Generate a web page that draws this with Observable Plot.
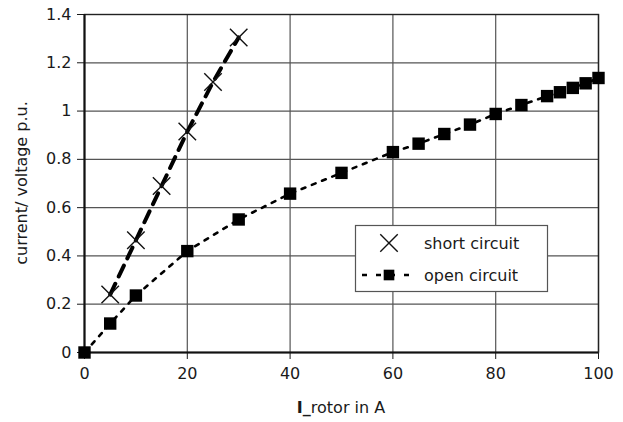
<!DOCTYPE html>
<html>
<head>
<meta charset="utf-8">
<script src="https://cdn.jsdelivr.net/npm/d3@7"></script>
<script src="https://cdn.jsdelivr.net/npm/@observablehq/plot@0.6"></script>
<style>
  html, body { margin: 0; padding: 0; background: white; }
  svg { display: block; }
</style>
</head>
<body>
<div id="chart"></div>
<script>
// Data
const shortX = [5, 10, 15, 20, 25, 30];
const shortY = [0.24, 0.465, 0.69, 0.915, 1.12, 1.305];
const openX = [0, 5, 10, 20, 30, 40, 50, 60, 65, 70, 75, 80, 85, 90, 92.5, 95, 97.5, 100];
const openY = [0, 0.12, 0.236, 0.42, 0.551, 0.658, 0.744, 0.83, 0.865, 0.905, 0.944, 0.988, 1.025, 1.062, 1.078, 1.096, 1.115, 1.137];
const xTicks = [0, 20, 40, 60, 80, 100];
const xTickLabels = ["0", "20", "40", "60", "80", "100"];
const yTicks = [0, 0.2, 0.4, 0.6, 0.8, 1, 1.2, 1.4];
const yTickLabels = ["0", "0.2", "0.4", "0.6", "0.8", "1", "1.2", "1.4"];
const seriesNames = ["short circuit", "open circuit"];
const xTitleBold = "I_";
const xTitleRest = "rotor in A";
const yTitle = "current/ voltage p.u.";

const shortData = shortX.map((x, i) => ({x, y: shortY[i]}));
const openData = openX.map((x, i) => ({x, y: openY[i]}));

const FONT = "DejaVu Sans";
const FS = "16px";
const chart = Plot.plot({
  width: 623,
  height: 422,
  marginLeft: 84,
  marginRight: 25,
  marginTop: 14,
  marginBottom: 70,
  style: {fontFamily: FONT, fontSize: FS, color: "#1a1a1a", background: "white", overflow: "visible"},
  x: {domain: [0, 100], ticks: xTicks, tickSize: 7, tickPadding: 8, label: null,
      tickFormat: (d) => xTickLabels[xTicks.indexOf(d)]},
  y: {domain: [0, 1.4], ticks: yTicks, tickSize: 7, tickPadding: 6, label: null,
      tickFormat: (d) => yTickLabels[yTicks.indexOf(d)]},
  marks: [
    Plot.gridX(xTicks, {stroke: "#555", strokeOpacity: 1, strokeWidth: 1.2}),
    Plot.gridY(yTicks, {stroke: "#555", strokeOpacity: 1, strokeWidth: 1.2}),
    Plot.frame({stroke: "#222", strokeWidth: 1.4}),
    Plot.ruleX([0], {stroke: "#111", strokeWidth: 2}),
    Plot.ruleY([0], {stroke: "#111", strokeWidth: 2}),
    Plot.line(openData, {x: "x", y: "y", stroke: "black", strokeWidth: 2.6, strokeDasharray: "4,7"}),
    Plot.line(shortData, {x: "x", y: "y", stroke: "black", strokeWidth: 4, strokeDasharray: "12,8"}),
    Plot.dot(openData, {x: "x", y: "y", symbol: "square", r: 7, fill: "black", stroke: "none"}),
    Plot.dot(shortData, {x: "x", y: "y", symbol: "times", r: 8, stroke: "#111", strokeWidth: 1.4})
  ]
});
document.getElementById("chart").appendChild(chart);

const svg = d3.select(chart);

// Axis titles
const xt = svg.append("text")
  .attr("x", 341).attr("y", 413)
  .attr("text-anchor", "middle")
  .attr("font-family", FONT).attr("font-size", FS).attr("fill", "#1a1a1a");
xt.append("tspan").attr("font-weight", "bold").text(xTitleBold);
xt.append("tspan").text(xTitleRest);

svg.append("text")
  .attr("transform", "translate(21,183) rotate(-90)")
  .attr("text-anchor", "middle")
  .attr("dy", "0.35em")
  .attr("font-family", FONT).attr("font-size", FS).attr("fill", "#1a1a1a")
  .text(yTitle);

// Legend
const lg = svg.append("g");
lg.append("rect").attr("x", 355.5).attr("y", 225.5).attr("width", 192).attr("height", 66)
  .attr("fill", "white").attr("stroke", "#555").attr("stroke-width", 1.2);
lg.append("path").attr("d", d3.symbol(d3.symbolTimes, Math.PI * 64)())
  .attr("transform", "translate(389,243)").attr("fill", "none").attr("stroke", "#111").attr("stroke-width", 1.4);
lg.append("line").attr("x1", 362).attr("x2", 416).attr("y1", 275).attr("y2", 275)
  .attr("stroke", "black").attr("stroke-width", 2.6).attr("stroke-dasharray", "5,9");
lg.append("path").attr("d", d3.symbol(d3.symbolSquare, Math.PI * 36)())
  .attr("transform", "translate(389,275)").attr("fill", "black");
lg.selectAll("text.lt").data(seriesNames).join("text")
  .attr("x", 424).attr("y", (d, i) => 243 + i * 32).attr("dy", "0.35em")
  .attr("text-anchor", "start")
  .attr("font-family", FONT).attr("font-size", FS).attr("fill", "#1a1a1a")
  .text(d => d);
</script>
</body>
</html>
